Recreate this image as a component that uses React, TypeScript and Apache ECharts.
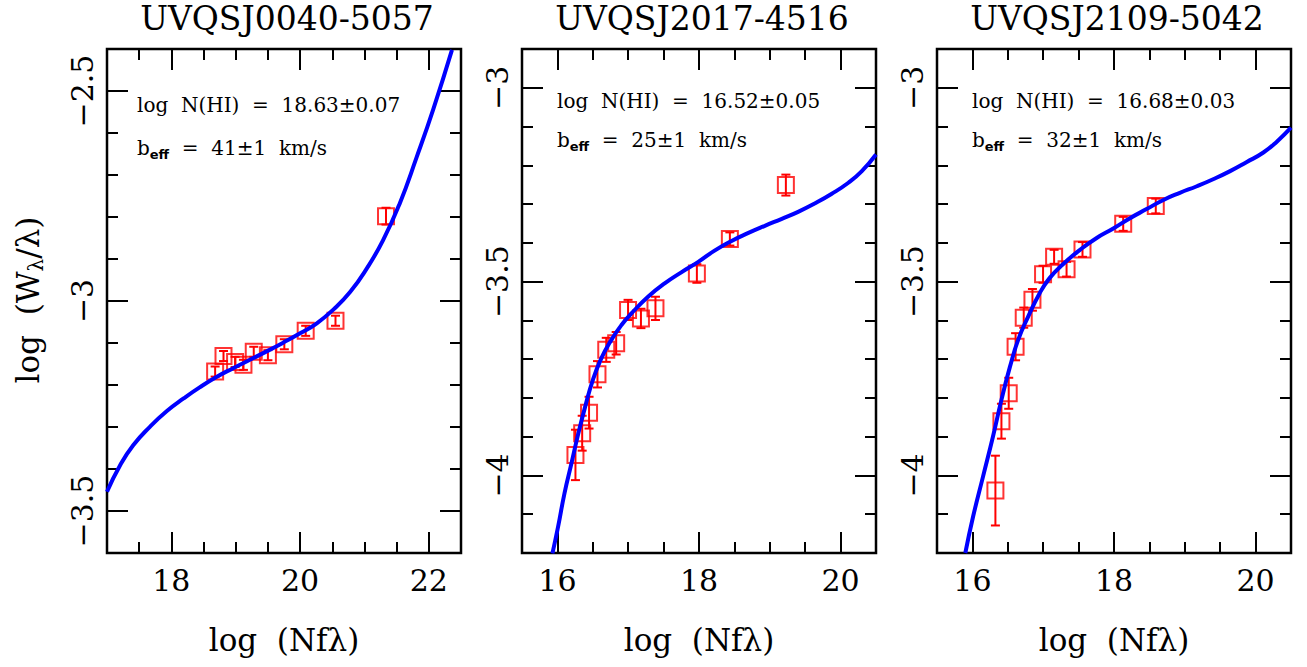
import React, { useEffect, useRef } from "react";
import * as echarts from "echarts";

// ---------- data ----------
const titles = ["UVQSJ0040-5057", "UVQSJ2017-4516", "UVQSJ2109-5042"];
const logN = ["18.63±0.07", "16.52±0.05", "16.68±0.03"];
const beff = ["41±1", "25±1", "32±1"];

const xTicks1 = [18, 20, 22];
const yTicks1 = [-3.5, -3, -2.5];
const xTicks23 = [16, 18, 20];
const yTicks23 = [-4, -3.5, -3];

// panel 1 measurements
const p1X = [18.68, 18.81, 18.99, 19.12, 19.28, 19.5, 19.755, 20.087, 20.55, 21.335];
const p1Y = [-3.168, -3.131, -3.145, -3.152, -3.121, -3.129, -3.103, -3.071, -3.047, -2.798];
const p1E = [0.012, 0.012, 0.012, 0.012, 0.012, 0.012, 0.012, 0.012, 0.012, 0.02];
// panel 1 curve of growth
const c1X = [17.0, 17.2, 17.41, 17.67, 17.93, 18.19, 18.445, 18.7, 18.96, 19.22, 19.48, 19.74, 20.0, 20.26, 20.52, 20.78, 21.03, 21.29, 21.55, 21.81, 22.07, 22.36];
const c1Y = [-3.454, -3.392, -3.343, -3.299, -3.262, -3.232, -3.205, -3.181, -3.16, -3.14, -3.12, -3.099, -3.077, -3.053, -3.02, -2.978, -2.924, -2.855, -2.767, -2.658, -2.543, -2.402];

// panel 2
const p2X = [16.255, 16.35, 16.447, 16.566, 16.69, 16.83, 16.998, 17.18, 17.385, 17.97, 18.436, 19.227];
const p2Y = [-3.947, -3.891, -3.838, -3.739, -3.676, -3.659, -3.573, -3.595, -3.569, -3.479, -3.39, -3.251];
const p2E = [0.065, 0.045, 0.041, 0.034, 0.031, 0.029, 0.026, 0.025, 0.03, 0.024, 0.017, 0.027];
const c2X = [15.93, 16.01, 16.1, 16.198, 16.29, 16.386, 16.5, 16.62, 16.76, 16.905, 17.046, 17.28, 17.52, 17.75, 17.99, 18.22, 18.46, 18.69, 18.93, 19.17, 19.4, 19.64, 19.87, 20.11, 20.3, 20.5];
const c2Y = [-4.201, -4.132, -4.046, -3.969, -3.896, -3.827, -3.754, -3.698, -3.651, -3.612, -3.582, -3.539, -3.504, -3.476, -3.449, -3.42, -3.395, -3.375, -3.356, -3.338, -3.32, -3.298, -3.274, -3.245, -3.215, -3.172];

// panel 3
const p3X = [16.325, 16.41, 16.513, 16.61, 16.725, 16.848, 16.998, 17.154, 17.33, 17.555, 18.13, 18.59];
const p3Y = [-4.039, -3.86, -3.788, -3.668, -3.593, -3.547, -3.481, -3.436, -3.468, -3.417, -3.351, -3.305];
const p3E = [0.09, 0.045, 0.04, 0.035, 0.026, 0.028, 0.022, 0.018, 0.019, 0.019, 0.018, 0.019];
const c3X = [15.9, 16.01, 16.15, 16.29, 16.41, 16.53, 16.645, 16.786, 16.95, 17.09, 17.28, 17.52, 17.75, 17.99, 18.22, 18.46, 18.69, 18.93, 19.17, 19.4, 19.64, 19.87, 20.11, 20.3, 20.5];
const c3Y = [-4.2, -4.106, -4.003, -3.9, -3.805, -3.72, -3.651, -3.591, -3.53, -3.491, -3.455, -3.418, -3.388, -3.363, -3.337, -3.313, -3.29, -3.271, -3.254, -3.236, -3.215, -3.192, -3.167, -3.139, -3.103];

// ---------- helpers ----------
const SERIF = "'DejaVu Serif', serif";
const range = (a: number, b: number, s: number) => {
  const out: number[] = [];
  const n = Math.round((b - a) / s);
  for (let i = 0; i <= n; i++) out.push(Math.round((a + i * s) * 1000) / 1000);
  return out;
};
const fmt = (v: number) => String(v).replace("-", "\u2212");

const panels = [
  { left: 107, xmin: 17, xmax: 22.5, ymin: -3.6, ymax: -2.4, xMajor: xTicks1, yMajor: yTicks1, px: p1X, py: p1Y, pe: p1E, cx: c1X, cy: c1Y, ann: [137, 105, 148] },
  { left: 522, xmin: 15.5, xmax: 20.5, ymin: -4.2, ymax: -2.9, xMajor: xTicks23, yMajor: yTicks23, px: p2X, py: p2Y, pe: p2E, cx: c2X, cy: c2Y, ann: [557, 101, 140] },
  { left: 937, xmin: 15.5, xmax: 20.5, ymin: -4.2, ymax: -2.9, xMajor: xTicks23, yMajor: yTicks23, px: p3X, py: p3Y, pe: p3E, cx: c3X, cy: c3Y, ann: [972, 101, 140] },
];
const GW = 354, GH = 504, GT = 49;

export default function App() {
  const ref = useRef<HTMLDivElement>(null);
  useEffect(() => {
    if (!ref.current) return;
    const chart = echarts.init(ref.current, null, { renderer: "svg" });
    const tickStyle = { color: "#000", width: 2 };
    const grid: any[] = [];
    const xAxis: any[] = [];
    const yAxis: any[] = [];
    const series: any[] = [];
    const graphic: any[] = [];

    panels.forEach((p, gi) => {
      grid.push({ left: p.left, top: GT, width: GW, height: GH, show: true, borderColor: "#000", borderWidth: 2.5, backgroundColor: "transparent" });
      const xMinor = range(p.xmin, p.xmax, 0.5);
      const yMinor = range(p.ymin, p.ymax, 0.1);
      const xb = { type: "value", gridIndex: gi, min: p.xmin, max: p.xmax, axisLine: { show: false }, splitLine: { show: false }, axisLabel: { show: false } };
      const yb = { type: "value", gridIndex: gi, min: p.ymin, max: p.ymax, axisLine: { show: false }, splitLine: { show: false }, axisLabel: { show: false } };
      const xi = xAxis.length;
      xAxis.push({
        ...xb, position: "bottom",
        axisTick: { inside: true, length: 21, lineStyle: tickStyle, customValues: p.xMajor },
        axisLabel: { show: true, customValues: p.xMajor, formatter: fmt, margin: 12, fontFamily: SERIF, fontSize: 30, color: "#000" },
      });
      xAxis.push({ ...xb, position: "bottom", axisTick: { inside: true, length: 11, lineStyle: tickStyle, customValues: xMinor } });
      xAxis.push({ ...xb, position: "top", axisTick: { inside: true, length: 21, lineStyle: tickStyle, customValues: p.xMajor } });
      xAxis.push({ ...xb, position: "top", axisTick: { inside: true, length: 11, lineStyle: tickStyle, customValues: xMinor } });
      const yi = yAxis.length;
      yAxis.push({
        ...yb, position: "left",
        axisTick: { inside: true, length: 21, lineStyle: tickStyle, customValues: p.yMajor },
        axisLabel: { show: true, customValues: p.yMajor, formatter: fmt, rotate: 90, margin: 10, fontFamily: SERIF, fontSize: 30, color: "#000" },
      });
      yAxis.push({ ...yb, position: "left", axisTick: { inside: true, length: 11, lineStyle: tickStyle, customValues: yMinor } });
      yAxis.push({ ...yb, position: "right", axisTick: { inside: true, length: 21, lineStyle: tickStyle, customValues: p.yMajor } });
      yAxis.push({ ...yb, position: "right", axisTick: { inside: true, length: 11, lineStyle: tickStyle, customValues: yMinor } });

      // error bars
      series.push({
        type: "custom", xAxisIndex: xi, yAxisIndex: yi, z: 2, clip: true,
        data: p.px.map((x, i) => [x, p.py[i] - p.pe[i], p.py[i] + p.pe[i]]),
        encode: { x: 0, y: [1, 2] },
        renderItem: (params: any, api: any) => {
          const x = api.value(0);
          const lo = api.coord([x, api.value(1)]);
          const hi = api.coord([x, api.value(2)]);
          const w = 4.5;
          const st = { stroke: "#ff0000", lineWidth: 2 };
          return {
            type: "group",
            children: [
              { type: "line", shape: { x1: lo[0], y1: lo[1], x2: hi[0], y2: hi[1] }, style: st },
              { type: "line", shape: { x1: lo[0] - w, y1: lo[1], x2: lo[0] + w, y2: lo[1] }, style: st },
              { type: "line", shape: { x1: hi[0] - w, y1: hi[1], x2: hi[0] + w, y2: hi[1] }, style: st },
            ],
          };
        },
      });
      // squares
      series.push({
        type: "scatter", xAxisIndex: xi, yAxisIndex: yi, z: 3,
        symbol: "rect", symbolSize: 16,
        itemStyle: { color: "transparent", borderColor: "#ff0000", borderWidth: 2 },
        data: p.px.map((x, i) => [x, p.py[i]]),
      });
      // curve
      series.push({
        type: "line", xAxisIndex: xi, yAxisIndex: yi, z: 4, clip: true,
        showSymbol: false, smooth: 0.5,
        lineStyle: { color: "#0000ff", width: 4 },
        data: p.cx.map((x, i) => [x, p.cy[i]]),
      });

      const cx = p.left + GW / 2;
      graphic.push({ type: "text", x: cx + 3, y: 18, style: { text: titles[gi], fontFamily: SERIF, fontSize: 33, fill: "#000", align: "center", verticalAlign: "middle" } });
      graphic.push({ type: "text", x: cx, y: 640, style: { text: "log  (Nf\u03bb)", fontFamily: SERIF, fontSize: 31, fill: "#000", align: "center", verticalAlign: "middle" } });
      graphic.push({ type: "text", x: p.ann[0], y: p.ann[1], style: { text: "log  N(HI)  =  " + logN[gi], fontFamily: SERIF, fontSize: 20, fill: "#000", align: "left", verticalAlign: "middle" } });
      graphic.push({
        type: "text", x: p.ann[0], y: p.ann[2],
        style: {
          text: "{a|b}{s|eff}{a|  =  " + beff[gi] + "  km/s}",
          align: "left", verticalAlign: "middle",
          rich: {
            a: { fontFamily: SERIF, fontSize: 20, fill: "#000", color: "#000" },
            s: { fontFamily: "'DejaVu Sans', sans-serif", fontWeight: "bold", fontSize: 13, color: "#000", fill: "#000", padding: [13, 0, 0, 0] },
          },
        },
      });
    });

    graphic.push({
      type: "text", x: 28, y: 300, rotation: Math.PI / 2,
      style: {
        text: "{a|log  (W}{s|\u03bb}{a|/\u03bb)}",
        align: "center", verticalAlign: "middle",
        rich: {
          a: { fontFamily: SERIF, fontSize: 31, color: "#000" },
          s: { fontFamily: SERIF, fontSize: 20, color: "#000", padding: [16, 0, 0, 0] },
        },
      },
    });

    chart.setOption({ animation: false, backgroundColor: "#fff", grid, xAxis, yAxis, series, graphic });
    return () => chart.dispose();
  }, []);
  return <div ref={ref} style={{ position: "absolute", left: 0, top: 0, width: 1307, height: 667 }} />;
}
